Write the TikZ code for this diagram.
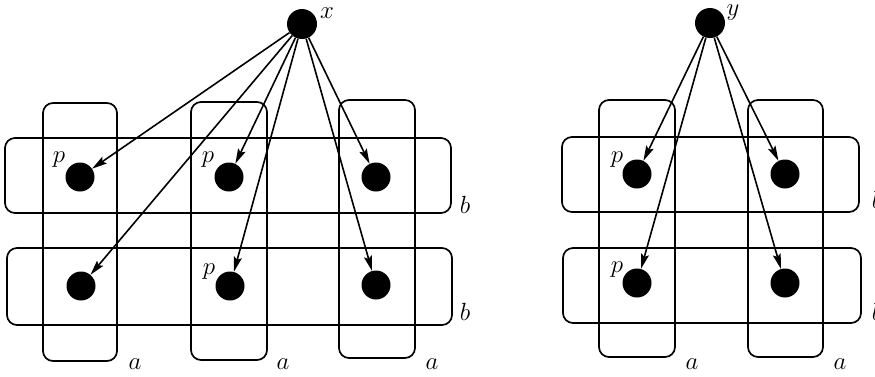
\documentclass[tikz,border=0pt]{standalone}
\usetikzlibrary{arrows.meta}
\begin{document}
\begin{tikzpicture}[x=1pt,y=-1pt,
  dot/.style={circle,fill=black,inner sep=0pt,minimum size=29pt},
  topdot/.style={circle,fill=black,inner sep=0pt,minimum size=30pt},
  grp/.style={draw,line width=1.7pt,rounded corners=10pt},
  arr/.style={line width=1.6pt,-{Stealth[length=15pt,width=8pt,inset=2.5pt]}},
  lbl/.style={inner sep=0pt,font=\fontsize{25}{28}\selectfont}]
\useasboundingbox (0,0) rectangle (875,376);
% left figure groups
\draw[grp] (43,103) rectangle (117,361);
\draw[grp] (191,102) rectangle (267,360);
\draw[grp] (339,100) rectangle (415,358);
\draw[grp] (5,138) rectangle (451,213);
\draw[grp] (7,248) rectangle (452,325);
% left nodes
\node[topdot] (x) at (302,24) {};
\node[dot] (l11) at (80,177) {};
\node[dot] (l12) at (229,177) {};
\node[dot] (l13) at (376,177) {};
\node[dot] (l21) at (81,286) {};
\node[dot] (l22) at (230,286) {};
\node[dot] (l23) at (376,285) {};
% left labels
\node[lbl] (lx) at (327,13) {$x$};
\node[lbl] (lp1) at (59,160) {$p$};
\node[lbl] (lp2) at (208,160) {$p$};
\node[lbl] (lp3) at (209,272) {$p$};
\node[lbl] (la1) at (135,364) {$a$};
\node[lbl] (la2) at (283,364) {$a$};
\node[lbl] (la3) at (432,364) {$a$};
\node[lbl] (lb1) at (465,205) {$b$};
\node[lbl] (lb2) at (465,312) {$b$};
% left arrows
\draw[arr] (x) -- (l11);
\draw[arr] (x) -- (l21);
\draw[arr] (x) -- (l12);
\draw[arr] (x) -- (l22);
\draw[arr] (x) -- (l13);
\draw[arr] (x) -- (l23);
% right figure groups
\draw[grp] (599,100) rectangle (675,357);
\draw[grp] (748,100) rectangle (823,357);
\draw[grp] (562,137) rectangle (859,212);
\draw[grp] (563,248) rectangle (861,323);
% right nodes
\node[topdot] (y) at (710,23) {};
\node[dot] (r11) at (637,174) {};
\node[dot] (r12) at (785,174) {};
\node[dot] (r21) at (637,283) {};
\node[dot] (r22) at (785,283) {};
% right labels
\node[lbl] (ly) at (733,13) {$y$};
\node[lbl] (rp1) at (617,160) {$p$};
\node[lbl] (rp2) at (617,270) {$p$};
\node[lbl] (ra1) at (692,364) {$a$};
\node[lbl] (ra2) at (840,364) {$a$};
\node[lbl] (rb1) at (877,200) {$b$};
\node[lbl] (rb2) at (877,312) {$b$};
% right arrows
\draw[arr] (y) -- (r11);
\draw[arr] (y) -- (r21);
\draw[arr] (y) -- (r12);
\draw[arr] (y) -- (r22);
\end{tikzpicture}
\end{document}
